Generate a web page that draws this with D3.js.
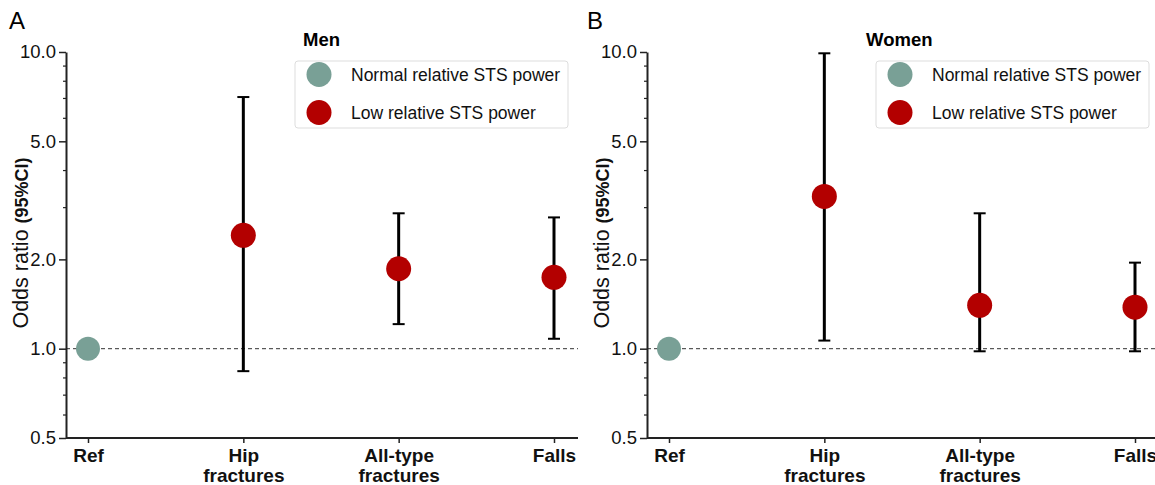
<!DOCTYPE html>
<html>
<head>
<meta charset="utf-8">
<script src="https://cdn.jsdelivr.net/npm/d3@7"></script>
<style>
  html, body { margin: 0; padding: 0; background: #fff; }
  svg { display: block; font-family: "Liberation Sans", Arial, sans-serif; }
</style>
</head>
<body>
<svg id="chart" width="1155" height="485"></svg>
<script>
// ---- data ----
const categories = ["Ref", "Hip fractures", "All-type fractures", "Falls"];
const categoryLines = [["Ref"], ["Hip", "fractures"], ["All-type", "fractures"], ["Falls"]];
const seriesNames = ["Normal relative STS power", "Low relative STS power"];

const menOR    = [1.0, 2.41, 1.86, 1.74];
const menLower = [null, 0.84, 1.21, 1.08];
const menUpper = [null, 7.05, 2.86, 2.77];

const womenOR    = [1.0, 3.26, 1.40, 1.38];
const womenLower = [null, 1.065, 0.98, 0.98];
const womenUpper = [null, 9.9, 2.86, 1.95];

const yTicks = [0.5, 1, 2, 5, 10];
const yMinorTicks = [0.6, 0.7, 0.8, 0.9, 3, 4, 6, 7, 8, 9];

const colors = ["#79a096", "#b30000"];

// ---- layout ----
const svg = d3.select("#chart");
const panels = [
  { letter: "A", title: "Men", or: menOR, lo: menLower, hi: menUpper,
    axisX: 66, xFirst: 88, xLast: 554, xEnd: 578, letterX: 9, titleX: 303, legendX: 295, yTitleX: 28 },
  { letter: "B", title: "Women", or: womenOR, lo: womenLower, hi: womenUpper,
    axisX: 647, xFirst: 669, xLast: 1135, xEnd: 1155, letterX: 587, titleX: 866, legendX: 876, yTitleX: 609 }
];

const yTop = 52, yBottom = 438;
const y = d3.scaleLog().domain([0.5, 10]).range([yBottom, yTop]);

panels.forEach(p => {
  const g = svg.append("g");
  const x = d3.scalePoint().domain(categories).range([p.xFirst, p.xLast]);

  // panel letter
  g.append("text").attr("x", p.letterX).attr("y", 29)
    .attr("font-size", 24).attr("fill", "#000").text(p.letter);

  // title
  g.append("text").attr("x", p.titleX).attr("y", 46)
    .attr("font-size", 18.5).attr("font-weight", "bold").attr("fill", "#000").text(p.title);

  // reference dashed line
  g.append("line")
    .attr("x1", p.axisX).attr("x2", p.xEnd)
    .attr("y1", y(1)).attr("y2", y(1))
    .attr("stroke", "#333").attr("stroke-width", 1)
    .attr("stroke-dasharray", "4,3");

  // y axis minor
  g.append("g").attr("transform", `translate(${p.axisX},0)`)
    .call(d3.axisLeft(y).tickValues(yMinorTicks).tickFormat("").tickSize(3).tickSizeOuter(0))
    .call(s => s.select(".domain").remove())
    .call(s => s.selectAll("line").attr("stroke", "#222").attr("stroke-width", 1.2));

  // y axis major
  const yAx = g.append("g").attr("transform", `translate(${p.axisX},0)`)
    .call(d3.axisLeft(y).tickValues(yTicks).tickFormat(d3.format(".1f")).tickSize(7).tickSizeOuter(0));
  yAx.select(".domain").attr("stroke", "#222").attr("stroke-width", 2);
  yAx.selectAll(".tick line").attr("stroke", "#222").attr("stroke-width", 1.5);
  yAx.selectAll(".tick text").attr("font-size", 18.5).attr("fill", "#111")
    .attr("font-family", "'Liberation Sans', Arial, sans-serif").attr("x", -10);

  // y title
  const yt = g.append("text")
    .attr("transform", `translate(${p.yTitleX},${(yTop + yBottom) / 2 - 2}) rotate(-90)`)
    .attr("text-anchor", "middle").attr("fill", "#111");
  yt.append("tspan").attr("font-size", 21.5).text("Odds ratio ");
  yt.append("tspan").attr("font-size", 18).attr("font-weight", "bold").text("(95%CI)");

  // x axis
  const xAx = g.append("g").attr("transform", `translate(0,${yBottom})`)
    .call(d3.axisBottom(x).tickFormat("").tickSize(5).tickSizeOuter(0));
  xAx.select(".domain").attr("d", `M${p.axisX},0H${p.xEnd}`).attr("stroke", "#222").attr("stroke-width", 2);
  xAx.selectAll(".tick line").attr("stroke", "#222").attr("stroke-width", 1.5);
  xAx.selectAll(".tick").each(function(d, i) {
    const t = d3.select(this).append("text")
      .attr("text-anchor", "middle").attr("font-size", 19).attr("font-weight", "bold")
      .attr("fill", "#111").attr("font-family", "'Liberation Sans', Arial, sans-serif");
    categoryLines[i].forEach((ln, j) => {
      t.append("tspan").attr("x", 0).attr("y", 24 + j * 20).text(ln);
    });
  });

  // error bars
  const idx = d3.range(categories.length).filter(i => p.lo[i] != null);
  const capW = 6;
  idx.forEach(i => {
    const cx = x(categories[i]);
    g.append("line").attr("x1", cx).attr("x2", cx)
      .attr("y1", y(p.lo[i])).attr("y2", y(p.hi[i]))
      .attr("stroke", "#000").attr("stroke-width", 3);
    [p.lo[i], p.hi[i]].forEach(v => {
      g.append("line").attr("x1", cx - capW).attr("x2", cx + capW)
        .attr("y1", y(v)).attr("y2", y(v))
        .attr("stroke", "#000").attr("stroke-width", 2);
    });
  });

  // points
  g.selectAll("circle.pt").data(categories).enter().append("circle")
    .attr("class", "pt")
    .attr("cx", d => x(d))
    .attr("cy", (d, i) => y(p.or[i]))
    .attr("r", (d, i) => i === 0 ? 12 : 12.5)
    .attr("fill", (d, i) => i === 0 ? colors[0] : colors[1]);

  // legend
  const lg = g.append("g").attr("transform", `translate(${p.legendX},61)`);
  lg.append("rect").attr("x", 0).attr("y", 0).attr("width", 273).attr("height", 67)
    .attr("rx", 3).attr("fill", "#fff").attr("stroke", "#ddd").attr("stroke-width", 1);
  seriesNames.forEach((nm, k) => {
    lg.append("circle").attr("cx", 24).attr("cy", 13.5 + k * 38).attr("r", 12.5).attr("fill", colors[k]);
    lg.append("text").attr("x", 56).attr("y", 13.5 + k * 38 + 6)
      .attr("font-size", 17.5).attr("fill", "#111").text(nm);
  });
});
</script>
</body>
</html>
